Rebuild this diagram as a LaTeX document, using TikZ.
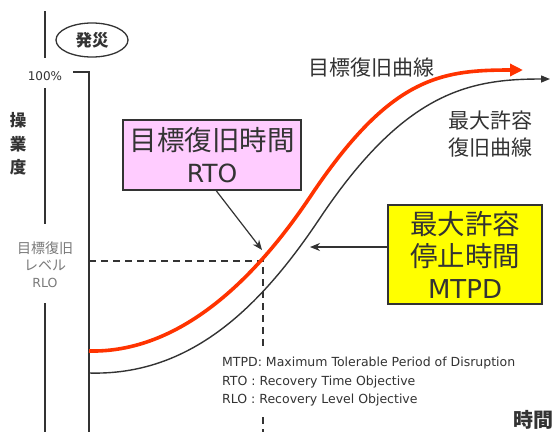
\documentclass[tikz,border=0pt]{standalone}
\usepackage{fontspec}
\setmainfont{Noto Sans CJK JP}
\newfontfamily\lat{DejaVu Sans}
\usetikzlibrary{arrows.meta,calc,shapes.geometric}
\definecolor{ink}{HTML}{333333}
\definecolor{curvered}{HTML}{FF3300}
\definecolor{pinkfill}{HTML}{FFCCFF}
\definecolor{yellowfill}{HTML}{FFFF00}
\definecolor{labelgray}{HTML}{7A7A7A}
\newcommand{\fs}[2]{\fontsize{#1}{#2}\selectfont}
\begin{document}
\begin{tikzpicture}[x=1pt,y=-1pt,
  axisline/.style={draw=ink,line width=1.5pt},
  dashline/.style={draw=ink,line width=1.4pt,dash pattern=on 7pt off 5pt},
  callout/.style={draw=ink,line width=1.5pt,inner sep=0pt,align=center,text=ink,font=\fs{27.5}{32}},
  pointer/.style={draw=ink,line width=1.2pt,-{Stealth[length=10pt,width=8pt]}},
  redcurve/.style={draw=curvered,line width=3.6pt,-{Triangle[length=13pt,width=12pt]}},
  blackcurve/.style={draw=ink,line width=1.4pt,-{Triangle[length=9pt,width=7pt]}},
  lbl/.style={inner sep=0pt,text=ink,align=center}]
\useasboundingbox (0,0) rectangle (553,432);
\fill[white] (0,0) rectangle (553,432);

% left axis (broken by labels)
\draw[axisline] (45,11) -- (45,58);
\draw[axisline] (45,88) -- (45,224);
\draw[axisline] (45,303) -- (45,432);
% time-zero bracket
\draw[axisline] (73,72) -- (89,72) -- (89,432);

% labels
\node[lbl,draw=ink,line width=1.3pt,ellipse,minimum width=72pt,minimum height=34pt,font=\bfseries\fs{16.5}{16.5}] (hassai) at (92,40) {発災};
\node[lbl,font=\lat\fs{12}{12}] (pct) at (45,76) {100\%};
\node[lbl,font=\bfseries\fs{16.5}{23.5}] (sogyo) at (18,144) {操\\業\\度};
\node[lbl,text=labelgray,font=\fs{14}{17}] (rlo) at (45,265) {目標復旧\\レベル\\{\lat\fs{12.5}{17}RLO}};
\node[lbl,font=\bfseries\fs{20}{20}] (jikan) at (533,420) {時間};
\node[lbl,font=\fs{21}{21}] (mokuhyo) at (371,68) {目標復旧曲線};
\node[lbl,font=\fs{21}{27}] (saidai) at (490,134) {最大許容\\復旧曲線};
\node[lbl,align=left,anchor=west,font=\lat\fs{12.5}{18.5}] (legend) at (222,382)
  {MTPD: Maximum Tolerable Period of Disruption\\RTO : Recovery Time Objective\\RLO : Recovery Level Objective};

% dashed RLO / RTO guide lines
\coordinate (rloStart) at (89,261);
\coordinate (rloPt) at (263,261);
\coordinate (rtoLow) at (263,347);
\coordinate (rtoGap) at (263,417);
\coordinate (rtoEnd) at (263,432);
\draw[dashline] (rloStart) -- (rloPt) -- (rtoLow);
\draw[dashline] (rtoGap) -- (rtoEnd);

% curves
\draw[blackcurve] (89,373) .. controls (190,376) and (260,308) .. (320,218)
                           .. controls (405,91) and (470,79) .. (550,79);
\draw[redcurve] (89,351) .. controls (180,353) and (255,279) .. (310,197)
                         .. controls (390,77) and (440,70) .. (523,70);

% callout boxes
\node[callout,fill=pinkfill,minimum width=178pt,minimum height=70pt] (rto) at (212,155) {目標復旧時間\\{\lat\fs{25}{32}RTO}};
\node[callout,fill=yellowfill,minimum width=154pt,minimum height=99pt] (mtpd) at (465,254.5) {最大許容\\停止時間\\{\lat\fs{26}{32}MTPD}};

% pointers
\coordinate (rtoTip) at (262,250);
\coordinate (mtpdTip) at (310,247);
\draw[pointer] ($(rto.south west)+(94,0)$) -- (rtoTip);
\draw[pointer] ($(mtpd.west)+(0,-7.5)$) -- (mtpdTip);
\end{tikzpicture}
\end{document}
